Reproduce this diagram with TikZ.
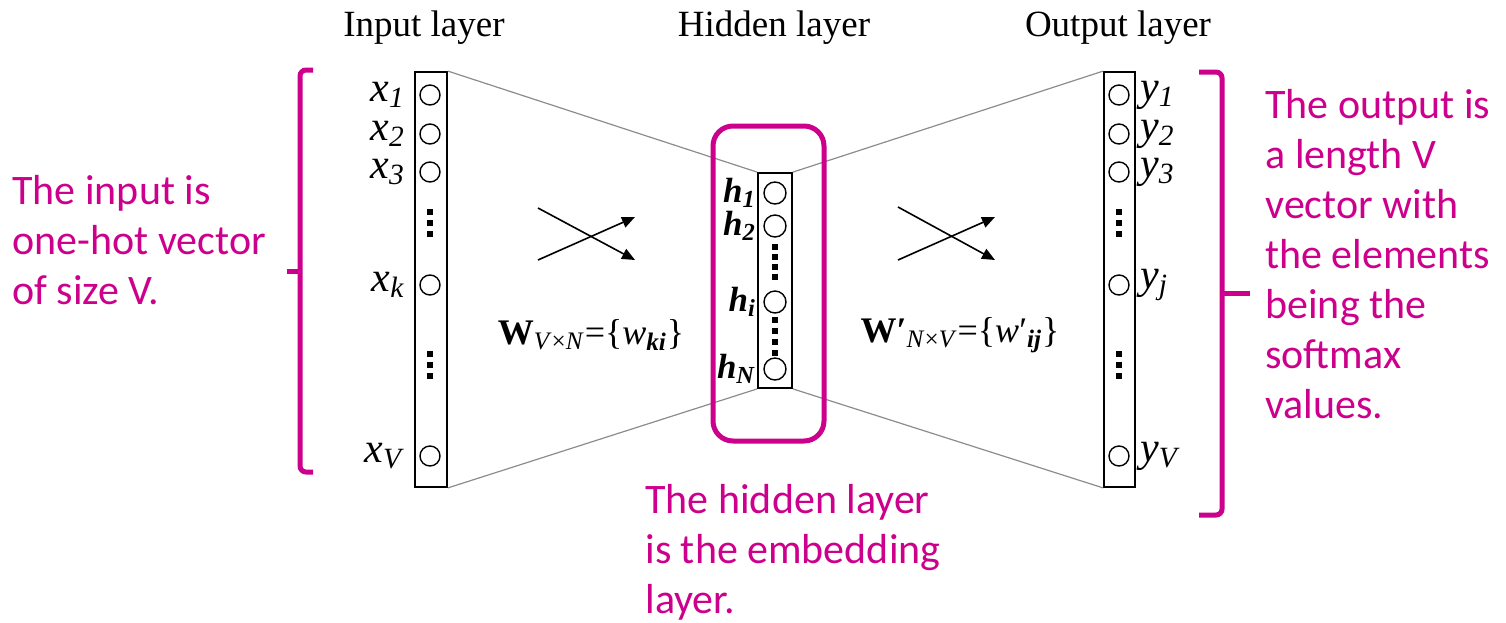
\documentclass[tikz,border=0pt]{standalone}
\usepackage{fontspec}
\setmainfont{Liberation Serif}
\newfontfamily\notefont{Carlito}
\usetikzlibrary{arrows.meta, positioning}
\definecolor{notepink}{RGB}{204,0,140}
\definecolor{linkgray}{RGB}{140,140,140}
\newcommand{\vlab}[2]{\textit{#1}\textsubscript{\textit{#2}}}

\begin{document}
\begin{tikzpicture}[x=0.5pt,y=-0.5pt,
  unit/.style={circle, draw, line width=0.7pt, minimum size=10pt, inner sep=0pt},
  hunit/.style={unit, minimum size=11pt},
  layerbox/.style={draw, line width=0.9pt, inner sep=0pt},
  link/.style={draw=linkgray, line width=0.6pt},
  cross/.style={line width=0.8pt, -{Triangle[length=6.5pt,width=5.5pt]}},
  vdot/.style={fill, inner sep=0pt, minimum size=2.6pt},
  title/.style={font=\fontsize{18.5}{22}\selectfont},
  lab/.style={font=\fontsize{18}{20}\selectfont, inner sep=1pt},
  ulab/.style={font=\fontsize{21}{24}\selectfont, inner sep=1pt},
  hlab/.style={font=\fontsize{17.5}{20}\selectfont, inner sep=0.5pt},
  note/.style={text=notepink, font=\notefont\fontsize{21}{25}\selectfont,
    align=left, anchor=north west, inner sep=0pt},
  bracket/.style={draw=notepink, line width=2.5pt, rounded corners=3pt}]

\useasboundingbox (0,0) rectangle (1506,622);

% layer boxes
\node[layerbox, minimum width=16pt, minimum height=207.5pt] (inbox) at (431,279.5) {};
\node[layerbox, minimum width=17pt, minimum height=107.5pt] (hidbox) at (775,280.5) {};
\node[layerbox, minimum width=15.5pt, minimum height=207.5pt] (outbox) at (1119.5,279.5) {};

% titles
\node[title] (intitle) at (424,28) {Input layer};
\node[title] (hidtitle) at (774,28) {Hidden layer};
\node[title] (outtitle) at (1118,28) {Output layer};

% links between layers
\draw[link] (inbox.north east) -- (hidbox.north west);
\draw[link] (inbox.south east) -- (hidbox.south west);
\draw[link] (hidbox.north east) -- (outbox.north west);
\draw[link] (hidbox.south east) -- (outbox.south west);

% input units
\foreach \name/\yy in {1/95, 2/134, 3/172, k/285, V/456} {
  \node[unit] (x\name) at (430,\yy) {};
  \node[ulab, left=6pt of x\name] (xl\name) {\vlab{x}{\name}};
}
\foreach \yy in {212,223,234,354,365,376}
  \node[vdot] at (430,\yy) {};

% hidden units
\foreach \name/\yy in {1/193, 2/226, i/302, N/369} {
  \node[hunit] (h\name) at (775,\yy) {};
  \node[hlab, left=3pt of h\name] (hl\name) {\textbf{\vlab{h}{\name}}};
}
\foreach \yy in {247,257,267,277,320,331,342,353}
  \node[vdot] at (775,\yy) {};

% output units
\foreach \name/\yy in {1/95, 2/134, 3/172, j/285, V/456} {
  \node[unit] (y\name) at (1119,\yy) {};
  \node[ulab, right=4pt of y\name] (yl\name) {\vlab{y}{\name}};
}
\foreach \yy in {212,223,234,354,365,376}
  \node[vdot] at (1119,\yy) {};

% weight matrices
\coordinate (la) at (538,208);
\coordinate (lb) at (635,260);
\coordinate (lc) at (538,260);
\coordinate (ld) at (635,217);
\draw[cross] (la) -- (lb);
\draw[cross] (lc) -- (ld);
\coordinate (ra) at (898,207);
\coordinate (rb) at (995,260);
\coordinate (rc) at (898,260);
\coordinate (rd) at (995,217);
\draw[cross] (ra) -- (rb);
\draw[cross] (rc) -- (rd);
\node[lab] (wleft) at (591,335)
  {\textbf{W}\textsubscript{\textit{V}×\textit{N}}=\{\textit{w}\textsubscript{\textbf{\textit{ki}}}\}};
\node[lab] (wright) at (960,335)
  {\textbf{W′}\textsubscript{\textit{N}×\textit{V}}=\{\textit{w}′\textsubscript{\textbf{\textit{ij}}}\}};

% notes
\node[draw=notepink, line width=2.5pt, rounded corners=10pt,
  minimum width=55.5pt, minimum height=157.5pt] (embedbox) at (768.5,283.5) {};
\draw[bracket] (313,70) -- (300,70) -- (300,472) -- (313,472);
\draw[bracket] (300,271) -- (287,271);
\draw[bracket] (1199,72) -- (1222,72) -- (1222,515) -- (1199,515);
\draw[bracket] (1222,293) -- (1250,293);
\node[note] (innote) at (12,175) {The input is\\one-hot vector\\of size V.};
\node[note] (outnote) at (1265,89)
  {The output is\\a length V\\vector with\\the elements\\being the\\softmax\\values.};
\node[note] (hidnote) at (645,484) {The hidden layer\\is the embedding\\layer.};
\end{tikzpicture}
\end{document}
